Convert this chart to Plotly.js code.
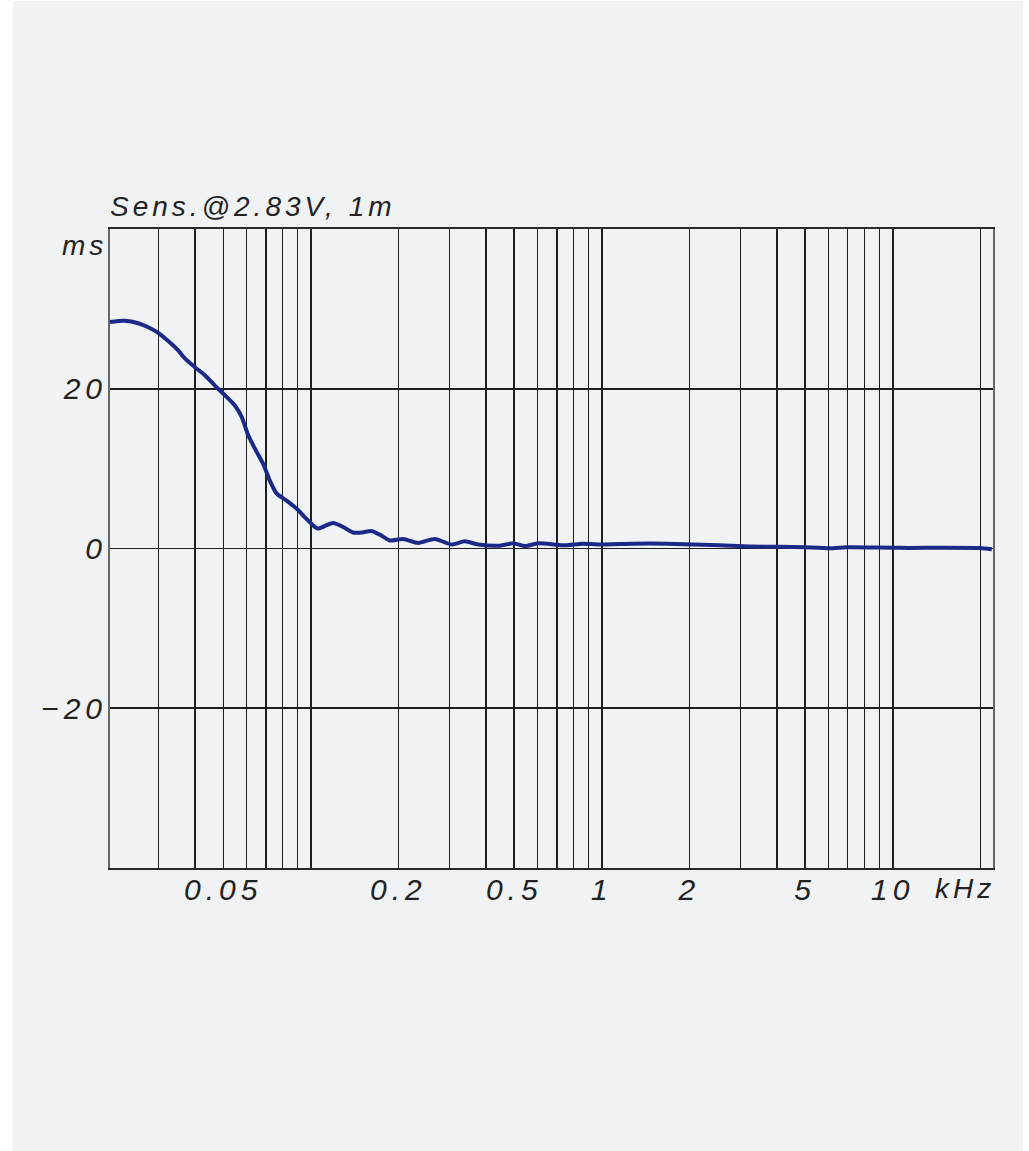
<!DOCTYPE html>
<html>
<head>
<meta charset="utf-8">
<script src="https://cdn.plot.ly/plotly-3.0.1.min.js"></script>
<style>
  html, body { margin: 0; padding: 0; background: #ffffff; }
  #bg { position: absolute; left: 13px; top: 1px; width: 1010px; height: 1150px; background: #f1f2f4; }
  #chart { position: absolute; left: 0; top: 0; width: 1029px; height: 1151px; }
  #chart .xtick text, #chart .ytick text { letter-spacing: 5px; }
  #chart .annotation-text { letter-spacing: 4px; }
</style>
</head>
<body>
<div id="bg"></div>
<div id="chart"></div>
<script>
// Frequency (kHz) and group delay (ms)
const freqKHz = [0.0204, 0.02295, 0.0255, 0.0276, 0.02987, 0.03321, 0.03499, 0.0369, 0.03994, 0.04321,
  0.04678, 0.04995, 0.05479, 0.05778, 0.06088, 0.06421, 0.06857, 0.07228, 0.07622, 0.08251,
  0.0893, 0.09537, 0.1032, 0.1057, 0.1193, 0.1291, 0.1397, 0.1500, 0.1616, 0.1750,
  0.1868, 0.2076, 0.2337, 0.2667, 0.3044, 0.3382, 0.3757, 0.4461, 0.4957, 0.5437,
  0.6040, 0.7362, 0.8624, 0.9840, 1.278, 1.669, 2.544, 3.226, 5.051, 6.22,
  6.935, 10.57, 19.9, 21.9];
const groupDelayMs = [28.36, 28.5, 28.2, 27.7, 27.0, 25.6, 24.8, 23.8, 22.7, 21.7,
  20.4, 19.4, 17.9, 16.5, 14.2, 12.5, 10.6, 8.5, 6.9, 6.0,
  5.0, 3.9, 2.7, 2.5, 3.2, 2.7, 2.0, 2.0, 2.2, 1.6,
  1.0, 1.2, 0.7, 1.2, 0.5, 0.9, 0.5, 0.35, 0.65, 0.3,
  0.65, 0.4, 0.6, 0.5, 0.6, 0.6, 0.4, 0.25, 0.17, 0.02,
  0.15, 0.08, 0.05, -0.1];

// Axis grid positions and labels
const xGridVals = [0.03, 0.04, 0.05, 0.06, 0.07, 0.08, 0.09,
  0.1, 0.2, 0.3, 0.4, 0.5, 0.6, 0.7, 0.8, 0.9,
  1, 2, 3, 4, 5, 6, 7, 8, 9, 10, 20];
const xLabeled = {0.05: '0.05', 0.2: '0.2', 0.5: '0.5', 1: '1', 2: '2', 5: '5', 10: '10'};
const xTickText = xGridVals.map(v => xLabeled[v] || '');
const yTickVals = [-20, 0, 20];
const yTickText = ['\u221220', '0', '20'];
const titleText = 'Sens.@2.83V, 1m';
const yUnit = 'ms';
const xUnit = 'kHz';

const labelFont = {family: 'Liberation Sans, Arial, sans-serif', size: 30, color: '#222222', style: 'italic'};
const annFont = {family: 'Liberation Sans, Arial, sans-serif', size: 28, color: '#222222', style: 'italic'};

const trace = {
  x: freqKHz, y: groupDelayMs, type: 'scatter', mode: 'lines',
  line: {color: '#1b2a88', width: 4, shape: 'spline', smoothing: 0.7},
  hoverinfo: 'skip'
};

const layout = {
  width: 1029, height: 1151, autosize: false,
  margin: {l: 110, r: 36, t: 229, b: 283, pad: 0},
  paper_bgcolor: 'rgba(0,0,0,0)', plot_bgcolor: 'rgba(0,0,0,0)',
  showlegend: false,
  xaxis: {
    type: 'log', range: [Math.log10(0.0204), Math.log10(22.1)],
    tickmode: 'array', tickvals: xGridVals, ticktext: xTickText,
    showgrid: true, gridcolor: '#1e1e1e', gridwidth: 1.5,
    ticks: '', showline: true, linecolor: '#2a2a2a', linewidth: 2, mirror: true,
    tickfont: labelFont, ticklabelstandoff: -6, zeroline: false, fixedrange: true
  },
  yaxis: {
    range: [-40, 40], tickmode: 'array', tickvals: yTickVals, ticktext: yTickText,
    showgrid: true, gridcolor: '#1e1e1e', gridwidth: 1.8,
    ticks: '', showline: true, linecolor: '#666666', linewidth: 2, mirror: true,
    tickfont: labelFont, ticklabelstandoff: -5, zeroline: false, fixedrange: true
  },
  annotations: [
    {text: titleText, xref: 'paper', yref: 'paper', x: 0, y: 1, xanchor: 'left', yanchor: 'bottom',
     xshift: 28, yshift: 5, showarrow: false, font: annFont},
    {text: yUnit, xref: 'paper', yref: 'paper', x: 0, y: 1, xanchor: 'right', yanchor: 'middle',
     xshift: -5, yshift: -16, showarrow: false, font: annFont},
    {text: xUnit, xref: 'paper', yref: 'paper', x: 1, y: 0, xanchor: 'right', yanchor: 'top',
     xshift: -2, yshift: -3, showarrow: false, font: annFont}
  ]
};

Plotly.newPlot('chart', [trace], layout, {displayModeBar: false, staticPlot: true});
</script>
</body>
</html>
